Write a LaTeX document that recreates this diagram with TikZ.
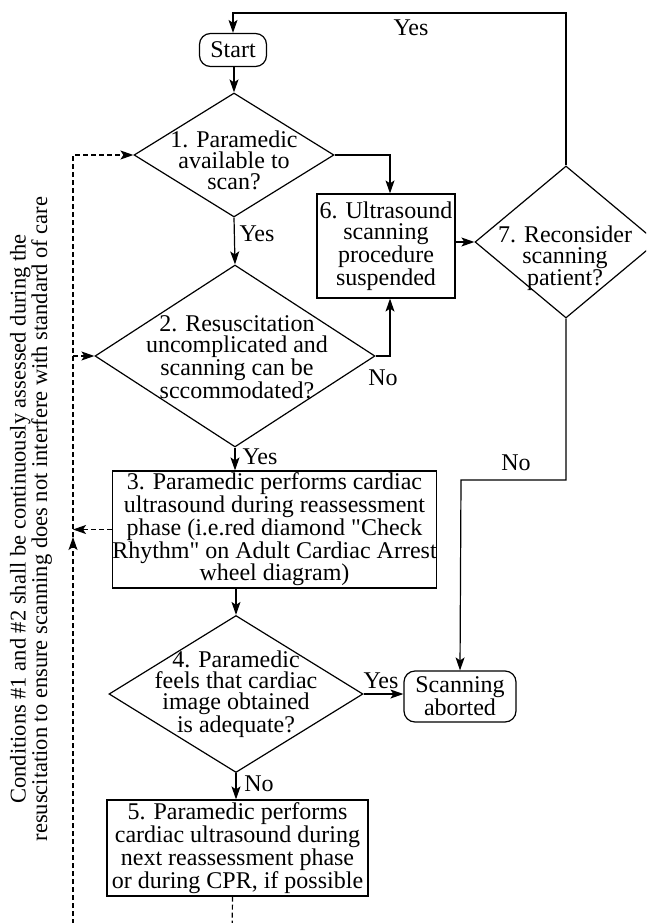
\documentclass[tikz,border=0pt]{standalone}
\usepackage{fontspec}
\setmainfont{Liberation Serif}
\usetikzlibrary{shapes.geometric,arrows.meta,calc}
\begin{document}
\begin{tikzpicture}[x=1pt,y=-1pt,
  every node/.style={font=\fontsize{24}{21}\selectfont, inner sep=0pt},
  box/.style={draw, line width=1.2pt, rectangle, align=center},
  term/.style={draw, line width=1.2pt, rectangle, rounded corners=11pt, align=center},
  dia/.style={draw, line width=1.2pt, diamond, inner sep=0pt},
  txt/.style={align=center},
  conn/.style={line width=1.2pt},
  arr/.style={conn, -{Stealth[length=13pt,width=9pt,inset=3pt]}},
  dline/.style={conn, dash pattern=on 5pt off 3pt},
  darr/.style={dline, -{Stealth[length=13pt,width=9pt,inset=3pt]}}
]
\useasboundingbox (0,0) rectangle (646,923);
\begin{scope}
\clip (0,0) rectangle (646,923);
% nodes
\node[term, minimum width=67pt, minimum height=33pt] (st) at (233,50) {Start};
\node[dia, minimum width=200pt, minimum height=124pt] (d1) at (234,155) {};
\node[txt] (d1t) at (234,160) {1. Paramedic\\available to\\scan?};
\node[dia, minimum width=280pt, minimum height=182pt] (d2) at (235,356) {};
\node[txt] (d2t) at (237,357) {2. Resuscitation\\uncomplicated and\\scanning can be\\sccommodated?};
\node[box, minimum width=321pt, minimum height=117pt] (b3) at (274.5,529.5) {3. Paramedic performs cardiac\\ultrasound during reassessment\\phase (i.e.red diamond \textquotedbl Check\\Rhythm\textquotedbl{} on Adult Cardiac Arrest\\wheel diagram)};
\node[dia, minimum width=254pt, minimum height=157pt] (d4) at (236,694) {};
\node[txt] (d4t) at (236,694) {4. Paramedic\\feels that cardiac\\image obtained\\is adequate?};
\node[box, minimum width=261pt, minimum height=96pt] (b5) at (237.5,848) {5. Paramedic performs\\cardiac ultrasound during\\next reassessment phase\\or during CPR, if possible};
\node[box, minimum width=138pt, minimum height=104pt] (b6) at (386,246) {6. Ultrasound\\scanning\\procedure\\suspended};
\node[dia, minimum width=182pt, minimum height=152pt] (d7) at (566,242) {};
\node[txt] (d7t) at (565,258) {7. Reconsider\\scanning\\patient?};
\node[term, minimum width=112pt, minimum height=51pt] (ab) at (460,696.5) {Scanning\\aborted};
\node[rotate=90, align=center, font=\fontsize{22.5}{20}\selectfont] (note) at (31,519) {Conditions \#1 and \#2 shall be continuously assessed during the\\resuscitation to ensure scanning does not interfere with standard of care};
% labels
\node (l1) at (411,28) {Yes};
\node (l2) at (257,234) {Yes};
\node (l3) at (383,378) {No};
\node (l4) at (260,457) {Yes};
\node (l5) at (516,463) {No};
\node (l6) at (381,681) {Yes};
\node (l7) at (259,784) {No};
% coordinates
\coordinate (top) at (400,13);
\coordinate (bend) at (461,480);
\coordinate (lb) at (73,940);
\coordinate (la) at (73,537);
\coordinate (bot5) at (232,940);
% connectors
\draw[arr] (st.south -| d1.north) -- (d1.north);
\draw[arr] (d1.south) -- (d2.north);
\draw[arr] (d2.south) -- (d2.south |- b3.north);
\draw[arr] (b3.south -| d4.north) -- (d4.north);
\draw[arr] (d4.south) -- (d4.south |- b5.north);
\draw[arr] (d1.east) -| ([xshift=4pt]b6.north);
\draw[arr] (d2.east) -| ([xshift=4pt]b6.south);
\draw[arr] (b6.east |- d7.west) -- (d7.west);
\draw[arr] (d7.north) |- (top) -| (st.north);
\draw[arr] (d7.south) |- (bend) -- (ab.north);
\draw[arr] (d4.east) -- (d4.east -| ab.west);
\draw[dline] ([xshift=-5pt]b5.south) -- (bot5);
\draw[darr] (lb) -- (la);
\draw[darr] (la) |- (d1.west);
\draw[darr] (la |- d2.west) -- (d2.west);
\draw[darr] (b3.west) -- (b3.west -| la);
\end{scope}
\end{tikzpicture}
\end{document}
